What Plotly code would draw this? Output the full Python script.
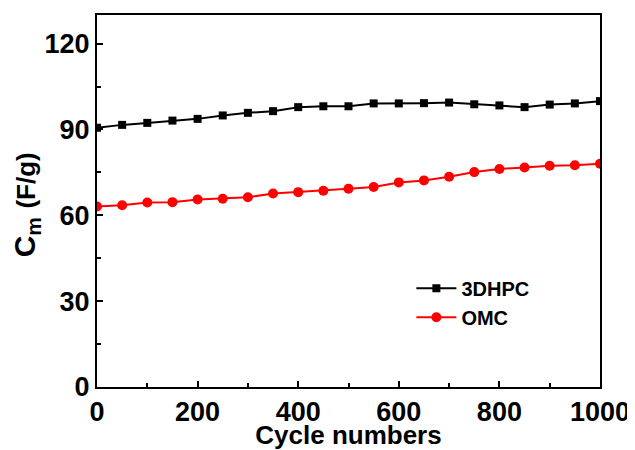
import plotly.graph_objects as go

cycles = [0, 50, 100, 150, 200, 250, 300, 350, 400, 450, 500, 550, 600, 650, 700, 750, 800, 850, 900, 950, 1000]
hpc3d = [90.6, 91.6, 92.3, 93.1, 93.7, 94.9, 95.8, 96.4, 97.8, 98.1, 98.1, 99.1, 99.1, 99.2, 99.4, 98.8, 98.4, 97.8, 98.7, 99.1, 99.9]
omc = [63.1, 63.5, 64.5, 64.6, 65.5, 65.8, 66.3, 67.6, 68.1, 68.6, 69.3, 69.9, 71.5, 72.2, 73.5, 75.1, 76.2, 76.7, 77.3, 77.5, 78.0]

FONT = "Liberation Sans, Arial, sans-serif"

fig = go.Figure()
fig.add_trace(go.Scatter(x=cycles, y=hpc3d, mode="lines+markers", name="3DHPC",
                         line=dict(color="black", width=2),
                         marker=dict(symbol="square", size=8, color="black")))
fig.add_trace(go.Scatter(x=cycles, y=omc, mode="lines+markers", name="OMC",
                         line=dict(color="#ff0000", width=2),
                         marker=dict(symbol="circle", size=10, color="#ff0000")))

axis_common = dict(showline=True, linecolor="black", linewidth=2, mirror=True,
                   showgrid=False, zeroline=False, ticks="inside", ticklen=6,
                   tickwidth=2, tickcolor="black", automargin=False,
                   tickfont=dict(family=FONT, size=27, color="black", weight="bold"))

fig.update_layout(
    width=627, height=442,
    margin=dict(l=89, r=35, t=7, b=63),
    paper_bgcolor="white", plot_bgcolor="white",
    font=dict(family=FONT, color="black"),
    showlegend=True,
    legend=dict(x=0.625, y=0.318, xanchor="left", yanchor="top",
                bgcolor="rgba(0,0,0,0)",
                font=dict(family=FONT, size=20, color="black", weight="bold"),
                itemwidth=40, tracegroupgap=0),
    xaxis=dict(range=[0, 1000], tickvals=[0, 200, 400, 600, 800, 1000],
               minor=dict(tickvals=[100, 300, 500, 700, 900], ticks="inside", ticklen=4, tickwidth=2, tickcolor="black"),
               title=dict(text="Cycle numbers", standoff=1,
                          font=dict(family=FONT, size=26, color="black", weight="bold")),
               **axis_common),
    yaxis=dict(range=[0, 130], tickvals=[0, 30, 60, 90, 120],
               minor=dict(tickvals=[15, 45, 75, 105], ticks="inside", ticklen=4, tickwidth=2, tickcolor="black"),
               **axis_common),
    annotations=[dict(text="C<sub>m</sub> <span style='font-size:26px'>(F/g)</span>",
                      xref="paper", yref="paper", x=-0.14, y=0.49,
                      xanchor="center", yanchor="middle", textangle=-90, showarrow=False,
                      font=dict(family=FONT, size=30, color="black", weight="bold"))],
)

fig.write_html("out.html")
